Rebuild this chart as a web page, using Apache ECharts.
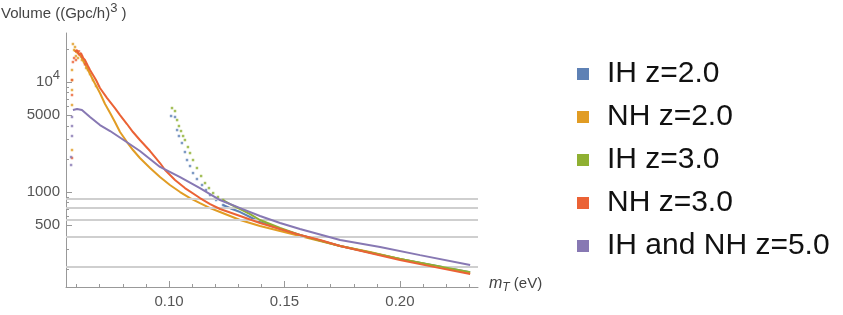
<!DOCTYPE html>
<html>
<head>
<meta charset="utf-8">
<script src="https://cdn.jsdelivr.net/npm/echarts@6/dist/echarts.min.js"></script>
<style>
html,body{margin:0;padding:0;background:#fff;}
#c{width:843px;height:315px;}
</style>
</head>
<body>
<div id="c"></div>
<script>
// ---- data: [mT (eV), Volume ((Gpc/h)^3)] ----
const names = ['IH z=2.0', 'NH z=2.0', 'IH z=3.0', 'NH z=3.0', 'IH and NH z=5.0'];

const ihz2Dots = [[0.1009,4910],[0.1026,4810],[0.1035,3661],[0.1043,3229],[0.1056,2789],[0.1069,2310],[0.1078,1954],[0.1091,1723],[0.1104,1488],[0.1121,1313],[0.1143,1158],[0.1160,1043],[0.1178,939],[0.1204,846],[0.1234,762]];
const ihz2Line = [[0.1234,762],[0.1273,701],[0.1308,658],[0.1351,593],[0.1394,534],[0.1481,461],[0.1567,407],[0.1741,323],[0.2000,246],[0.2304,187]];

const nhz2Dots = [[0.0580,2409],[0.0580,6180],[0.0580,8460],[0.0580,10420],[0.0580,12860],[0.0584,22150],[0.0589,19540],[0.0593,20810],[0.0597,17230],[0.0602,18740],[0.0606,16530],[0.0615,17600],[0.0623,15850],[0.0632,15200],[0.0641,13410],[0.0649,12860],[0.0658,11820],[0.0671,10420],[0.0684,9200]];
const nhz2Line = [[0.0589,19540],[0.0615,17600],[0.0641,13980],[0.0671,10420],[0.0701,7940],[0.0723,6310],[0.0745,5225],[0.0766,4330],[0.0788,3511],[0.0818,2848],[0.0844,2409],[0.0874,2038],[0.0918,1653],[0.0961,1369],[0.1004,1158],[0.1048,1000],[0.1091,882],[0.1134,794],[0.1178,715],[0.1221,658],[0.1308,557],[0.1394,491],[0.1481,442],[0.1567,398],[0.1654,358],[0.1741,323],[0.1870,285],[0.2000,246],[0.2130,217],[0.2304,183]];

const ihz3Dots = [[0.1013,5800],[0.1026,5450],[0.1035,4513],[0.1043,3981],[0.1052,3585],[0.1061,3229],[0.1069,2970],[0.1082,2565],[0.1091,2262],[0.1104,1954],[0.1121,1653],[0.1139,1398],[0.1156,1207],[0.1173,1087],[0.1191,979],[0.1212,901],[0.1234,846]];
const ihz3Line = [[0.1234,846],[0.1264,778],[0.1308,701],[0.1351,631],[0.1394,557],[0.1481,471],[0.1567,407],[0.1741,323],[0.2000,246],[0.2304,187]];

const nhz3Dots = [[0.0580,2038],[0.0580,7620],[0.0580,10420],[0.0584,15200],[0.0589,16530],[0.0597,15850],[0.0610,19000],[0.0623,17000],[0.0636,14500]];
const nhz3Line = [[0.0593,18740],[0.0602,19540],[0.0610,17600],[0.0619,18350],[0.0628,16530],[0.0636,15850],[0.0649,13980],[0.0658,12860],[0.0671,11580],[0.0684,10420],[0.0701,8820],[0.0732,7150],[0.0766,5800],[0.0788,5010],[0.0818,4152],[0.0844,3511],[0.0874,2970],[0.0918,2359],[0.0961,1835],[0.0983,1585],[0.1026,1286],[0.1069,1087],[0.1134,882],[0.1178,778],[0.1221,701],[0.1308,605],[0.1394,523],[0.1481,461],[0.1567,407],[0.1654,366],[0.1741,323],[0.1870,279],[0.2000,241],[0.2130,212],[0.2304,180]];

const ihnh5Dots = [[0.0576,1760],[0.0576,2080],[0.0580,3230],[0.0580,3980],[0.0580,4810]];
const ihnh5Line = [[0.0584,5565],[0.0602,5680],[0.0623,5565],[0.0658,4810],[0.0701,4065],[0.0745,3585],[0.0810,2910],[0.0874,2359],[0.0961,1690],[0.1048,1369],[0.1134,1087],[0.1221,846],[0.1308,715],[0.1394,605],[0.1481,523],[0.1567,461],[0.1741,366],[0.1914,316],[0.2087,267],[0.2304,217]];

const refLevels = [864, 726, 565, 395, 211];

const xMajor = [0.10, 0.15, 0.20];
const xMinor = [0.06, 0.07, 0.08, 0.09, 0.11, 0.12, 0.13, 0.14, 0.16, 0.17, 0.18, 0.19, 0.21, 0.22, 0.23];
const yMajor = [500, 1000, 5000, 10000];
const yMinor = [200, 300, 400, 600, 700, 800, 900, 2000, 3000, 4000, 6000, 7000, 8000, 9000, 20000];

const colors = ['#5E81B5', '#E19C24', '#8FB032', '#EB6235', '#8778B3'];
// --------------------------------------------------------------------

const FONT = '"Liberation Sans", Arial, sans-serif';
const chart = echarts.init(document.getElementById('c'), null, {renderer: 'canvas'});
const axisGray = '#999';
const X0 = 0.0554, X1 = 0.2338, Y0 = 137, Y1 = 27900;

function pair(i, dots, line) {
  return [
    {name: names[i], type: 'line', data: line, showSymbol: false, symbol: 'none',
     lineStyle: {color: colors[i], width: 2}, itemStyle: {color: colors[i]},
     animation: false, silent: true, z: 3 + i},
    {name: names[i], type: 'scatter', data: dots, symbol: 'rect', symbolSize: 2.5,
     itemStyle: {color: colors[i]}, animation: false, silent: true, z: 3 + i}
  ];
}

const series = [
  {name: 'ref', type: 'line', data: [], silent: true, animation: false, z: 1,
   markLine: {silent: true, symbol: 'none', animation: false, label: {show: false},
     lineStyle: {color: '#cfcfcf', width: 2, type: 'solid'},
     data: refLevels.map(v => ({yAxis: v}))}}
]
  .concat(pair(0, ihz2Dots, ihz2Line))
  .concat(pair(1, nhz2Dots, nhz2Line))
  .concat(pair(2, ihz3Dots, ihz3Line))
  .concat(pair(3, nhz3Dots, nhz3Line))
  .concat(pair(4, ihnh5Dots, ihnh5Line));

chart.setOption({
  backgroundColor: '#fff',
  animation: false,
  grid: {left: 66, top: 33, width: 412, height: 254},
  xAxis: [
    {type: 'value', position: 'bottom', offset: 0, min: X0, max: X1, splitLine: {show: false},
     axisLine: {onZero: false, lineStyle: {color: axisGray, width: 1}},
     axisTick: {inside: true, length: 6, customValues: xMajor, lineStyle: {color: axisGray}},
     axisLabel: {customValues: xMajor, margin: 7, color: '#555', fontSize: 15, fontFamily: FONT,
       formatter: v => v.toFixed(2)}},
    {type: 'value', position: 'bottom', offset: 0, min: X0, max: X1, splitLine: {show: false},
     axisLine: {show: false, onZero: false},
     axisTick: {inside: true, length: 3, customValues: xMinor, lineStyle: {color: axisGray}},
     axisLabel: {show: false}}
  ],
  yAxis: [
    {type: 'log', position: 'left', offset: 0, min: Y0, max: Y1, logBase: 10, splitLine: {show: false},
     axisLine: {show: true, onZero: false, lineStyle: {color: axisGray, width: 1}},
     axisTick: {show: true, inside: true, length: 6, customValues: yMajor, lineStyle: {color: axisGray}},
     axisLabel: {customValues: yMajor, margin: 6, color: '#555', fontSize: 15, fontFamily: FONT,
       formatter: v => Math.round(v) === 10000 ? '{b|10}{s|4}' : String(Math.round(v)),
       rich: {b: {fontSize: 15, fontFamily: FONT, color: '#555', lineHeight: 26},
              s: {fontSize: 13, fontFamily: FONT, color: '#555', verticalAlign: 'top', lineHeight: 13}}}},
    {type: 'log', position: 'left', offset: 0, min: Y0, max: Y1, logBase: 10, splitLine: {show: false},
     axisLine: {show: false, onZero: false},
     axisTick: {show: true, inside: true, length: 3, customValues: yMinor, lineStyle: {color: axisGray}},
     axisLabel: {show: false}}
  ],
  legend: {
    orient: 'vertical', left: 572, top: 54, itemGap: 13,
    icon: 'rect', itemWidth: 12, itemHeight: 12,
    data: names, selectedMode: false,
    textStyle: {fontSize: 30, fontFamily: FONT, color: '#111', padding: [0, 0, 0, 13], lineHeight: 30}
  },
  graphic: [
    {type: 'text', left: 1, top: 2, silent: true,
     style: {text: '{a|Volume ((Gpc/h)}{s|3}{a| )}', rich: {
       a: {fontSize: 15, fontFamily: FONT, fill: '#444', lineHeight: 24},
       s: {fontSize: 13, fontFamily: FONT, fill: '#444', verticalAlign: 'top', lineHeight: 13}}}},
    {type: 'text', left: 489, top: 276, silent: true,
     style: {text: '{m|m}{t|T}{a| (eV)}', rich: {
       m: {fontSize: 16, fontFamily: FONT, fontStyle: 'italic', fill: '#444', lineHeight: 20},
       t: {fontSize: 12, fontFamily: FONT, fontStyle: 'italic', fill: '#444', verticalAlign: 'bottom', lineHeight: 12},
       a: {fontSize: 15, fontFamily: FONT, fill: '#444', lineHeight: 20}}}}
  ],
  series: series
});
</script>
</body>
</html>
